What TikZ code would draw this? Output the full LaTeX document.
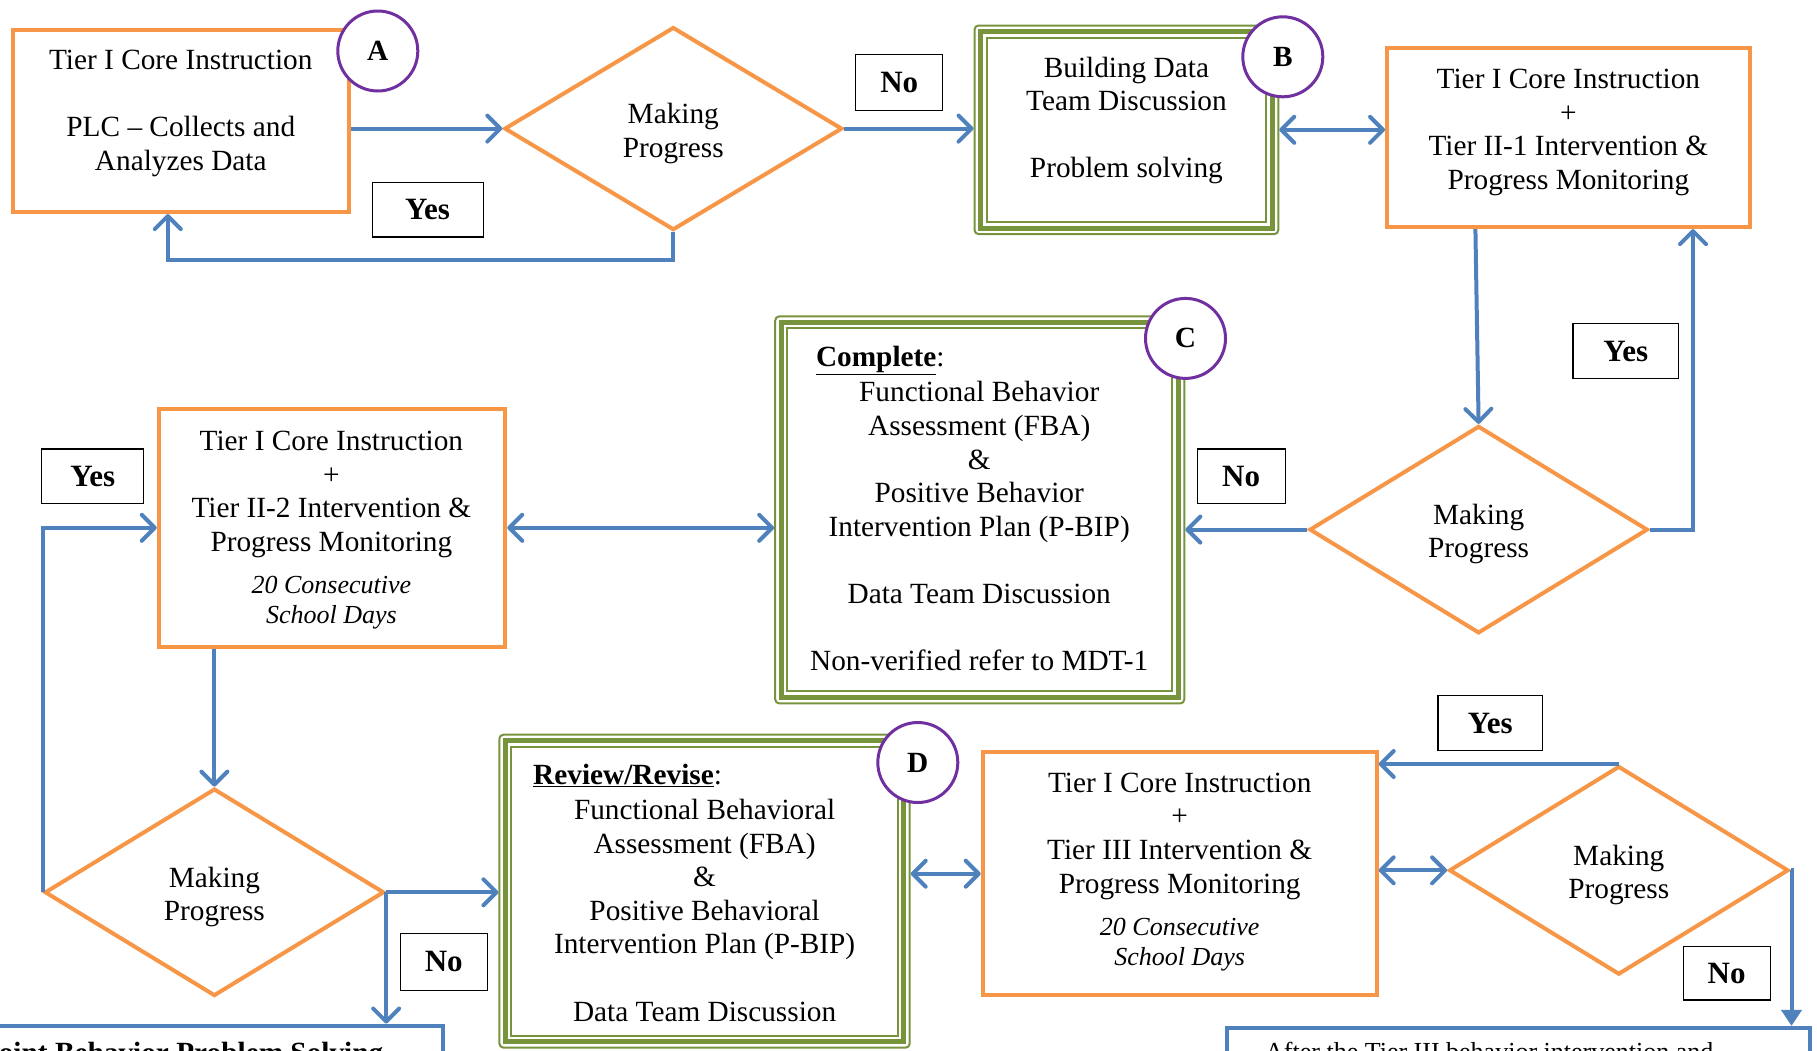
\documentclass[tikz,border=0pt]{standalone}
\usepackage{fontspec}
\setmainfont{Liberation Serif}
\usetikzlibrary{shapes.geometric,arrows.meta,calc}
\definecolor{orng}{HTML}{F79646}
\definecolor{arrblue}{HTML}{4F81BD}
\definecolor{grn}{HTML}{77933C}
\definecolor{purp}{HTML}{7030A0}
\newcommand\mainfs{\fontsize{29.3}{33.6}\selectfont}
\newcommand\smallfs{\fontsize{26}{30}\selectfont}
\newcommand\lblfs{\fontsize{31}{36}\selectfont\bfseries}
\newcommand\greenframe[1]{%
  \draw[draw=grn, line width=5pt] ([shift={(7,7)}]#1.north west) rectangle ([shift={(-7,-7)}]#1.south east);
  \draw[draw=grn, line width=2pt] ([shift={(13,13)}]#1.north west) rectangle ([shift={(-13,-13)}]#1.south east);}
\tikzset{
  obox/.style={draw=orng, line width=4pt, rectangle, inner sep=0pt},
  dia/.style={draw=orng, line width=4pt, diamond, inner sep=0pt},
  gbox/.style={draw=grn, line width=2pt, rounded corners=4pt, inner sep=0pt},
  txt/.style={align=center, font=\mainfs, inner sep=0pt},
  itxt/.style={align=center, font=\smallfs\itshape, inner sep=0pt},
  lbl/.style={draw=black, line width=1.2pt, fill=white, inner sep=0pt, font=\lblfs},
  circ/.style={circle, draw=purp, line width=3pt, fill=white, minimum size=80pt, inner sep=0pt, font=\mainfs\bfseries},
  barb/.tip={Straight Barb[round,length=13pt,width=26pt]},
  arr/.style={draw=arrblue, line width=4pt, -barb},
  darr/.style={draw=arrblue, line width=4pt, barb-barb},
  tarr/.style={draw=arrblue, line width=4pt, -{Triangle[length=16pt,width=20pt]}},
  bbox/.style={draw=arrblue, line width=4pt, rectangle, inner sep=0pt},
}
\begin{document}
\begin{tikzpicture}[x=1pt,y=-1pt]
\useasboundingbox (0,0) rectangle (1817,1050);
\clip (0,0) rectangle (1817,1050);

% ---- row 1
\node[obox, minimum width=336pt, minimum height=182pt] (A) at (180.8,121.1) {};
\node[txt] (At) at (180.8,113.3) {Tier I Core Instruction\\[33.6pt]PLC – Collects and\\Analyzes Data};
\node[circ] (cA) at (377.8,51) {A};

\node[dia, minimum width=338pt, minimum height=203pt] (d1) at (673.3,128.6) {};
\node[txt] (d1t) at (673.3,133.5) {Making\\Progress};
\node[lbl, minimum width=111pt, minimum height=54.5pt] (y1) at (427.6,209.7) {Yes};
\node[lbl, minimum width=87pt, minimum height=55.6pt] (n1) at (899.2,82.3) {No};

\node[gbox, minimum width=303.7pt, minimum height=208.6pt] (B) at (1126.4,129.8) {};
\greenframe{B}
\node[txt] (Bt) at (1126.4,120.5) {Building Data\\Team Discussion\\[33.6pt]Problem solving};
\node[circ] (cB) at (1282.8,56.8) {B};

\node[obox, minimum width=362.7pt, minimum height=179.6pt] (II1) at (1568.4,137.3) {};
\node[txt] (II1t) at (1568.4,132.5) {Tier I Core Instruction\\+\\Tier II-1 Intervention \&\\Progress Monitoring};

% ---- row 2
\node[dia, minimum width=338.4pt, minimum height=207.4pt] (d2) at (1478.6,529.6) {};
\node[txt] (d2t) at (1478.6,534) {Making\\Progress};
\node[lbl, minimum width=105.5pt, minimum height=54.5pt] (y2) at (1625.8,351.1) {Yes};
\node[lbl, minimum width=88pt, minimum height=54.5pt] (n2) at (1241.1,476.3) {No};

\node[gbox, minimum width=409.1pt, minimum height=387pt] (C) at (979.75,509.9) {};
\greenframe{C}
\node[txt, anchor=base west] (Ch) at (815.8,366.6) {\underline{\textbf{Complete}}:};
\node[txt] (Ct) at (979.2,526.2) {Functional Behavior\\Assessment (FBA)\\\&\\Positive Behavior\\Intervention Plan (P-BIP)\\[33.6pt]Data Team Discussion\\[33.6pt]Non-verified refer to MDT-1};
\node[circ] (cC) at (1185.5,338.4) {C};

\node[obox, minimum width=346.5pt, minimum height=237.6pt] (II2) at (332,527.8) {};
\node[txt] (II2t) at (331.4,494.5) {Tier I Core Instruction\\+\\Tier II-2 Intervention \&\\Progress Monitoring};
\node[itxt] (II2i) at (331.4,603) {20 Consecutive\\School Days};
\node[lbl, minimum width=102pt, minimum height=54.5pt] (y3) at (92.7,476.3) {Yes};

% ---- row 3
\node[dia, minimum width=339.5pt, minimum height=207.4pt] (d3) at (214.4,892.3) {};
\node[txt] (d3t) at (214.4,897) {Making\\Progress};
\node[lbl, minimum width=87pt, minimum height=56.8pt] (n3) at (443.8,961.8) {No};
\node[bbox, minimum width=502.7pt, minimum height=174.5pt] (BL) at (191.35,1112.75) {};
\node[txt, anchor=base west, font=\mainfs\bfseries] (BLt) at (-16,1062.4) {Joint Behavior Problem Solving};

\node[gbox, minimum width=410.3pt, minimum height=312.9pt] (D) at (704.55,891.15) {};
\greenframe{D}
\node[txt, anchor=base west] (Dh) at (533.0,784.9) {\underline{\textbf{Review/Revise}}:};
\node[txt] (Dt) at (704.6,910.3) {Functional Behavioral\\Assessment (FBA)\\\&\\Positive Behavioral\\Intervention Plan (P-BIP)\\[33.6pt]Data Team Discussion};
\node[circ] (cD) at (917.8,762.5) {D};

\node[obox, minimum width=394pt, minimum height=243.3pt] (III) at (1179.7,873.7) {};
\node[txt] (IIIt) at (1179.7,836.2) {Tier I Core Instruction\\+\\Tier III Intervention \&\\Progress Monitoring};
\node[itxt] (IIIi) at (1179.7,945) {20 Consecutive\\School Days};

\node[dia, minimum width=339.5pt, minimum height=208.6pt] (d4) at (1618.8,870.3) {};
\node[txt] (d4t) at (1618.8,875) {Making\\Progress};
\node[lbl, minimum width=104.3pt, minimum height=54.5pt] (y4) at (1490.2,723.1) {Yes};
\node[lbl, minimum width=87pt, minimum height=53.3pt] (n4) at (1726.6,973.4) {No};
\node[bbox, minimum width=582.8pt, minimum height=172.1pt] (BR) at (1518.6,1113.95) {};
\node[txt, anchor=base west, font=\smallfs] (BRt) at (1265,1060.5) {After the Tier III behavior intervention and};

% ---- connectors
\draw[arr] (A.east |- d1.west) -- (d1.west);
\draw[arr] (d1.south) -- ++(0,28) -| ([xshift=-13pt]A.south);
\draw[arr] (d1.east) -- (d1.east -| B.west);
\draw[darr] (B.east) -- (B.east -| II1.west);
\draw[arr] ([xshift=-93pt]II1.south) -- (d2.north);
\draw[arr] (d2.east) -| ([xshift=124.6pt]II1.south);
\draw[arr] (d2.west) -- (d2.west -| C.east);
\draw[darr] (II2.east) -- (II2.east -| C.west);
\draw[arr] (d3.west) |- (II2.west);
\draw[arr] (d3.north |- II2.south) -- (d3.north);
\draw[arr] (d3.east) -- (d3.east -| D.west);
\draw[arr] (d3.east) -- (d3.east |- BL.north);
\draw[darr] (III.west -| D.east) -- (III.west);
\draw[darr] (d4.west -| III.east) -- (d4.west);
\draw[arr] (d4.north) -- (d4.north -| III.east);
\coordinate (k4) at (1791.5,870.3);
\draw[tarr] (d4.east) -- (k4) -- (k4 |- BR.north);
\end{tikzpicture}
\end{document}
